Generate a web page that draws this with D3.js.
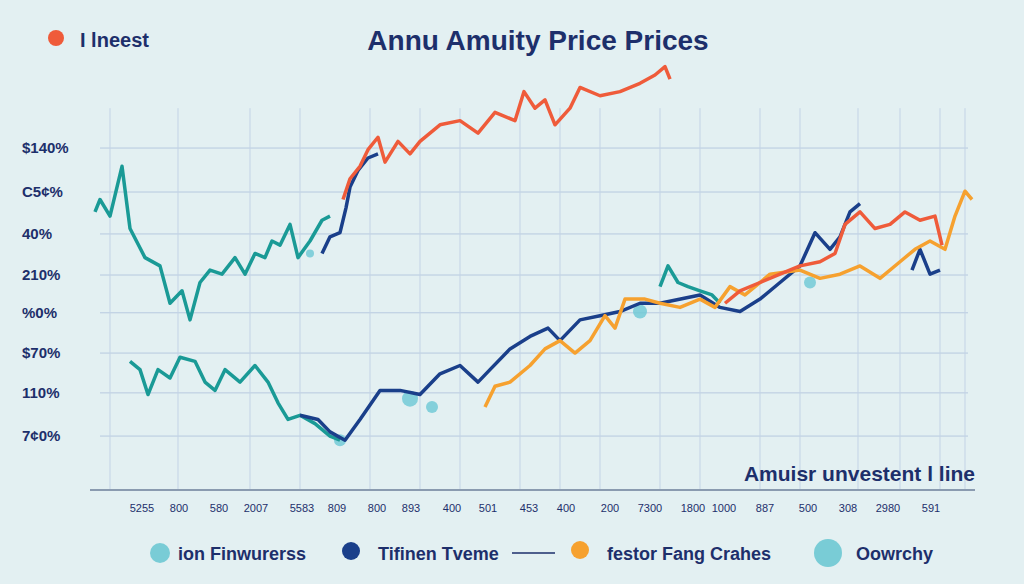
<!DOCTYPE html><html><head><meta charset="utf-8">
<script src="https://cdn.jsdelivr.net/npm/d3@7"></script>
<style>body{margin:0;background:#e3f0f2}text{font-family:"Liberation Sans",Arial,sans-serif}</style></head><body>
<svg id="c" width="1024" height="584"></svg>
<script>
const yLabels=["$140%","C5¢%","40%","210%","%0%","$70%","110%","7¢0%"];
const yTickVals=[82.4,71.8,61.7,51.8,42.7,33,23.4,13];
const xLabels=["5255","800","580","2007","5583","809","800","893","400","501","453","400","200","7300","1800","1000","887","500","308","2980","591"];
const xTickPos=[142,179,219,256,302,337,377,411,452,488,529,566,610,650,693,724,765,808,848,888,931];
const vGrid=[110,178,250,300,370,420,460,520,560,600,660,700,760,800,858,900,940,965];
const teal1=[[95,67],[100,70],[110,66],[122,78],[130,63],[145,56],[160,54],[170,45],[182,48],[190,41],[200,50],[210,53],[222,52],[235,56],[245,52],[255,57],[265,56],[272,60],[280,59],[290,64],[298,56],[310,60],[322,65],[330,66]];
const teal2=[[130,31],[140,29],[148,23],[158,29],[170,27],[180,32],[195,31],[205,26],[215,24],[225,29],[240,26],[255,30],[268,26],[278,21],[288,17],[300,18],[315,16],[330,13],[340,12]];
const teal3=[[660,49],[668,54],[678,50],[688,49],[700,48],[712,47],[720,45]];
const navy1=[[322,57],[330,61],[340,62],[346,68],[350,73],[358,77],[368,80],[378,81]];
const navy2=[[300,18],[318,17],[330,14],[345,12],[360,17],[380,24],[400,24],[420,23],[440,28],[460,30],[478,26],[490,29],[510,34],[530,37],[548,39],[560,36],[580,41],[600,42],[620,43],[640,45],[660,45],[700,47],[720,44],[740,43],[760,46],[780,50],[800,54],[815,62],[830,58],[840,61],[850,67],[860,69]];
const navy3=[[912,53],[920,58],[930,52],[940,53]];
const red1=[[343,70],[350,75],[360,78],[368,82],[378,85],[385,79],[398,84],[410,81],[420,84],[440,88],[460,89],[478,86],[495,91],[515,89],[524,96],[535,92],[545,94],[555,88],[570,92],[580,97],[600,95],[620,96],[640,98],[655,100],[665,102],[670,99]];
const red2=[[725,45],[740,48],[760,50],[780,52],[800,54],[820,55],[835,57],[845,64],[860,67],[875,63],[890,64],[905,67],[920,65],[935,66],[942,59]];
const orange=[[485,20],[495,25],[510,26],[530,30],[545,34],[560,36],[575,33],[590,36],[605,42],[615,39],[625,46],[645,46],[660,45],[680,44],[700,46],[715,44],[730,49],[745,47],[770,52],[800,53],[820,51],[840,52],[860,54],[880,51],[900,55],[915,58],[930,60],[945,58],[955,66],[965,72],[972,70]];
const blobs=[[310,57,4],[340,12,6],[410,22,8],[432,20,6],[640,43,7],[810,50,6]];

const svg=d3.select("#c");
const x=d3.scaleLinear().domain([0,1024]).range([0,1024]);
const y=d3.scaleLinear().domain([0,100]).range([490,75]);
const g=svg.append("g");
g.selectAll(".h").data(yTickVals).join("line").attr("x1",100).attr("x2",968).attr("y1",d=>y(d)).attr("y2",d=>y(d)).attr("stroke","#b7c9df").attr("stroke-width",1);
g.selectAll(".v").data(vGrid).join("line").attr("x1",d=>x(d)).attr("x2",d=>x(d)).attr("y1",y(92)).attr("y2",y(0)).attr("stroke","#c3d3e6").attr("stroke-width",1);
g.selectAll(".yl").data(yLabels).join("text").attr("x",22).attr("y",(d,i)=>y(yTickVals[i])+5).attr("font-size",15).attr("font-weight","bold").attr("fill","#1d2f6b").text(d=>d);
svg.append("line").attr("x1",90).attr("x2",975).attr("y1",490).attr("y2",490).attr("stroke","#8a9bb0").attr("stroke-width",2);
g.selectAll(".xl").data(xLabels).join("text").attr("x",(d,i)=>xTickPos[i]).attr("y",512).attr("text-anchor","middle").attr("font-size",11).attr("fill","#1d2f6b").text(d=>d);
const line=d3.line().x(d=>x(d[0])).y(d=>y(d[1]));
g.selectAll(".b").data(blobs).join("circle").attr("cx",d=>x(d[0])).attr("cy",d=>y(d[1])).attr("r",d=>d[2]).attr("fill","#6cc8d4").attr("opacity",0.8);
[[teal1,"#1a9a96"],[teal2,"#1a9a96"],[teal3,"#1a9a96"],[navy1,"#1a3f8a"],[navy2,"#1a3f8a"],[navy3,"#1a3f8a"],[orange,"#f6a12f"],[red1,"#ef5b3a"],[red2,"#ef5b3a"]].forEach(([d,c])=>{
 svg.append("path").attr("d",line(d)).attr("fill","none").attr("stroke",c).attr("stroke-width",3.5).attr("stroke-linejoin","round");});
svg.append("text").attr("x",538).attr("y",50).attr("text-anchor","middle").attr("font-size",28).attr("font-weight","bold").attr("fill","#1d2f6b").text("Annu Amuity Price Prices");
svg.append("circle").attr("cx",56).attr("cy",38).attr("r",8).attr("fill","#ef5b3a");
svg.append("text").attr("x",80).attr("y",47).attr("font-size",20).attr("font-weight","bold").attr("fill","#1d2f6b").text("I lneest");
svg.append("text").attr("x",975).attr("y",481).attr("text-anchor","end").attr("font-size",21).attr("font-weight","bold").attr("fill","#1d2f6b").text("Amuisr unvestent l line");
const leg=svg.append("g");
leg.append("circle").attr("cx",160).attr("cy",553).attr("r",10).attr("fill","#79ccd6");
leg.append("text").attr("x",178).attr("y",560).attr("font-size",18).attr("font-weight","bold").attr("fill","#1d2f6b").text("ion Finwurerss");
leg.append("circle").attr("cx",351).attr("cy",551).attr("r",9).attr("fill","#1a3f8a");
leg.append("text").attr("x",378).attr("y",560).attr("font-size",18).attr("font-weight","bold").attr("fill","#1d2f6b").text("Tifinen Tveme");
leg.append("line").attr("x1",512).attr("x2",555).attr("y1",553).attr("y2",553).attr("stroke","#1d2f6b").attr("stroke-width",1.5);
leg.append("circle").attr("cx",580).attr("cy",550).attr("r",9).attr("fill","#f6a12f");
leg.append("text").attr("x",607).attr("y",560).attr("font-size",18).attr("font-weight","bold").attr("fill","#1d2f6b").text("festor Fang Crahes");
leg.append("circle").attr("cx",828).attr("cy",553).attr("r",14).attr("fill","#79ccd6");
leg.append("text").attr("x",856).attr("y",560).attr("font-size",18).attr("font-weight","bold").attr("fill","#1d2f6b").text("Oowrchy");
</script></body></html>
